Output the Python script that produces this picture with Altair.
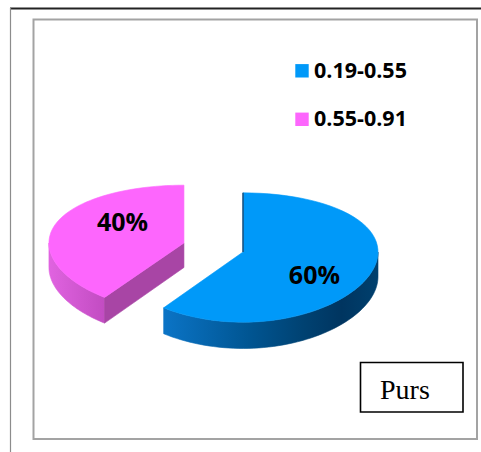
import numpy as np
import pandas as pd
import altair as alt

# ---- chart data ----
categories = ["0.19-0.55", "0.55-0.91"]
shares = [60, 40]
top_colors = ["#0099f9", "#fd66fd"]
explode = [0.0, 0.46]          # radial pull-out of each slice (fraction of radius)
box_label = "Purs"

W, H = 481, 452

# ---- 3D pie projection ----
CX, CY, R = 243.0, 252.0, 135.0
PHI = np.radians(28.4)     # viewing elevation
DIST = 10.3                # camera distance (radii)
DEPTH = 0.21               # pie thickness (radii)


def project(X, Z, Y):
    X, Z, Y = np.asarray(X, float), np.asarray(Z, float), np.asarray(Y, float)
    up = Y * np.cos(PHI) + Z * np.sin(PHI)
    depth = DIST + Z * np.cos(PHI) - Y * np.sin(PHI)
    return CX + R * X, CY - R * up * DIST / depth


def rim(a0, a1, ox, oz, y, n=60):
    t = np.radians(np.linspace(a0, a1, n))
    return project(ox + np.sin(t), oz + np.cos(t), np.full(n, y))


def poly_frame(xs, ys):
    return pd.DataFrame({"x": xs, "y": ys, "i": np.arange(len(xs))})


total = float(sum(shares))
bounds = np.concatenate([[0.0], np.cumsum(shares) / total * 360.0])

walls, faces, tops, labels = [], [], [], []
for k, cat in enumerate(categories):
    a0, a1 = bounds[k], bounds[k + 1]
    mid = np.radians((a0 + a1) / 2)
    ox, oz = explode[k] * np.sin(mid), explode[k] * np.cos(mid)

    # top surface
    tx, ty = rim(a0, a1, ox, oz, 0.0)
    cx0, cy0 = project(ox, oz, 0.0)
    tops.append(poly_frame(np.r_[cx0, tx, cx0], np.r_[cy0, ty, cy0]))

    # outer wall, front half only
    w0, w1 = max(a0, 90.0), min(a1, 270.0)
    if w1 > w0:
        ux, uy = rim(w0, w1, ox, oz, 0.0)
        lx, ly = rim(w0, w1, ox, oz, -DEPTH)
        walls.append(poly_frame(np.r_[ux, lx[::-1], ux[:1]], np.r_[uy, ly[::-1], uy[:1]]))
    else:
        walls.append(None)

    # cut face at the start edge, when it faces the viewer
    if np.sin(np.radians(a0)) < -1e-6:
        ex, ez = ox + np.sin(np.radians(a0)), oz + np.cos(np.radians(a0))
        px, py = project([ox, ex, ex, ox, ox], [oz, ez, ez, oz, oz],
                         [0, 0, -DEPTH, -DEPTH, 0])
        faces.append(poly_frame(px, py))
    else:
        faces.append(None)

    # percentage label on the top face
    la = np.radians((a0 + a1) / 2 + 14)
    lx_, ly_ = project(ox + 0.58 * np.sin(la), oz + 0.66 * np.cos(la), 0.0)
    labels.append({"x": float(lx_), "y": float(ly_), "text": f"{shares[k]:.0f}%"})

xs = alt.Scale(domain=[0, W], range=[0, W])
ys = alt.Scale(domain=[0, H], range=[0, H])
X = lambda f="x": alt.X(f"{f}:Q", scale=xs, axis=None)
Y = lambda f="y": alt.Y(f"{f}:Q", scale=ys, axis=None)


def grad(stops):
    return alt.Gradient(
        gradient="linear", x1=0, y1=0, x2=1, y2=0,
        stops=[alt.GradientStop(color=c, offset=o) for o, c in stops],
    )


def polygon(df, fill):
    return alt.Chart(df).mark_line(fill=fill, stroke=fill, strokeWidth=0.6, interpolate="linear").encode(
        x=X(), y=Y(), order="i:Q"
    )


wall_fills = [
    grad([(0, "#0b74c6"), (0.4, "#005592"), (0.65, "#004272"), (0.83, "#003560"), (1, "#00406e")]),
    grad([(0, "#e063e0"), (1, "#c24cc2")]),
]
face_fills = ["#1c4f80", "#a845a5"]

layers = []
# pink slice first (it sits behind), then blue
for k in [1, 0]:
    if walls[k] is not None:
        layers.append(polygon(walls[k], wall_fills[k]))
    if faces[k] is not None:
        layers.append(polygon(faces[k], face_fills[k]))
    layers.append(polygon(tops[k], top_colors[k]))

# shaded seam along the blue slice's vertical radius
seam = tops[0].iloc[[0, 1]]
layers.append(alt.Chart(seam).mark_line(stroke="#1d4a72", strokeWidth=1.4).encode(x=X(), y=Y(), order="i:Q"))

LABEL_FONT = "Open Sans"
label_df = pd.DataFrame(labels)
layers.append(
    alt.Chart(label_df).mark_text(font=LABEL_FONT, fontWeight="bold", fontSize=25, color="#000000",
                                  baseline="middle", dx=5, dy=1)
    .encode(x=X(), y=Y(), text="text:N")
)

# legend
legend_df = pd.DataFrame({"cat": categories, "row": np.arange(len(categories))})
legend_df["sy"] = 70.8 + 48.5 * legend_df["row"]
legend_df["ty"] = legend_df["sy"] + 7
legend_df["sx"] = 302
legend_df["tx"] = 314
layers.append(
    alt.Chart(legend_df).mark_square(size=180, opacity=1).encode(
        x=X("sx"), y=Y("sy"),
        color=alt.Color("cat:N", scale=alt.Scale(domain=categories, range=top_colors), legend=None),
    )
)
layers.append(
    alt.Chart(legend_df).mark_text(font=LABEL_FONT, fontWeight="bold", fontSize=21.5, align="left",
                                   baseline="alphabetic", color="#000000")
    .encode(x=X("tx"), y=Y("ty"), text="cat:N")
)

# frames
one = pd.DataFrame({"k": [0]})
frames = [
    alt.Chart(one).mark_rect(fill="white", stroke="#a3a3a3", strokeWidth=2).encode(
        x=alt.value(33.5), x2=alt.value(477), y=alt.value(19.5), y2=alt.value(439)),
    alt.Chart(one).mark_rule(stroke="#222222", strokeWidth=2).encode(
        x=alt.value(10), x2=alt.value(W), y=alt.value(8.5)),
    alt.Chart(one).mark_rule(stroke="#8c8c8c", strokeWidth=1.2).encode(
        x=alt.value(10.5), y=alt.value(8), y2=alt.value(H)),
]
box = [
    alt.Chart(one).mark_rect(fill="white", stroke="#000000", strokeWidth=1.6).encode(
        x=alt.value(360.5), x2=alt.value(463), y=alt.value(362.5), y2=alt.value(412)),
    alt.Chart(pd.DataFrame({"t": [box_label]})).mark_text(
        font="Liberation Serif", fontSize=28, align="left", baseline="alphabetic", color="#000000")
    .encode(x=alt.value(380), y=alt.value(398.5), text="t:N"),
]

chart = alt.layer(*frames, *layers, *box).properties(
    width=W, height=H, padding=0, autosize="none", background="white"
).configure_view(stroke=None)

chart.save("out.html", embed_options={"renderer": "svg", "actions": False})
